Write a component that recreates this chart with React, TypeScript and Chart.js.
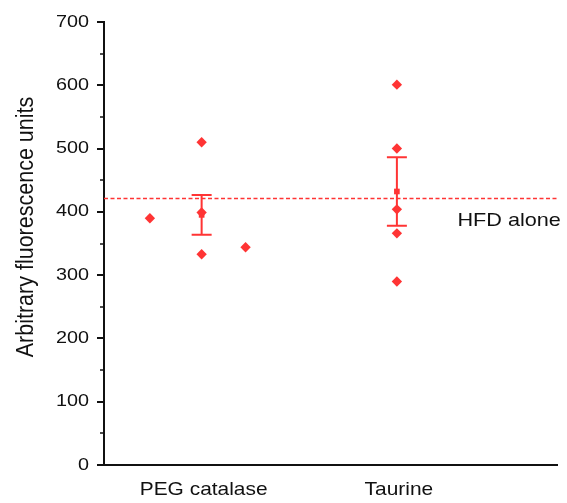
import React, { useEffect, useRef } from "react";
import { Chart, registerables } from "chart.js";

Chart.register(...registerables);

const categories = ["PEG catalase", "Taurine"];
const categoryPositions = [1, 2];
const pegValues = [390, 399, 510, 333, 344];
const pegPositions = [0.735, 1, 1, 1, 1.225];
const taurineValues = [601, 500, 404, 366, 290];
const taurinePositions = [2, 2, 2, 2, 2];
const hfdAloneValue = 421;
const hfdLabel = "HFD alone";
const yTickValues = [0, 100, 200, 300, 400, 500, 600, 700];
const yMinorTickValues = [50, 150, 250, 350, 450, 550, 650];
const yTitle = "Arbitrary fluorescence units";

const RED = "#ff3434";
const FONT = "'Liberation Sans', Arial, sans-serif";

function mean(a: number[]) {
  return a.reduce((s, v) => s + v, 0) / a.length;
}
function sem(a: number[]) {
  const m = mean(a);
  const v = a.reduce((s, x) => s + (x - m) * (x - m), 0) / (a.length - 1);
  return Math.sqrt(v) / Math.sqrt(a.length);
}

const groups = [pegValues, taurineValues];
const groupMeans = groups.map(mean);
const groupSems = groups.map(sem);

function stretchedText(
  ctx: CanvasRenderingContext2D,
  text: string,
  x: number,
  y: number,
  sx: number,
  align: CanvasTextAlign,
  baseline: CanvasTextBaseline,
  font: string,
  rotate = 0
) {
  ctx.save();
  ctx.translate(x, y);
  if (rotate) ctx.rotate(rotate);
  if (rotate) ctx.scale(1, sx);
  else ctx.scale(sx, 1);
  ctx.font = font;
  ctx.fillStyle = "#111";
  ctx.textAlign = align;
  ctx.textBaseline = baseline;
  ctx.fillText(text, 0, 0);
  ctx.restore();
}

const decorPlugin = {
  id: "decor",
  beforeDatasetsDraw(chart: any) {
    const ctx = chart.ctx as CanvasRenderingContext2D;
    const xs = chart.scales.x;
    const ys = chart.scales.y;
    ctx.save();
    ctx.strokeStyle = RED;
    ctx.lineWidth = 2;
    groups.forEach((_, i) => {
      const x = xs.getPixelForValue(categoryPositions[i]);
      const top = ys.getPixelForValue(groupMeans[i] + groupSems[i]);
      const bot = ys.getPixelForValue(groupMeans[i] - groupSems[i]);
      ctx.beginPath();
      ctx.moveTo(x, top);
      ctx.lineTo(x, bot);
      ctx.moveTo(x - 10, top);
      ctx.lineTo(x + 10, top);
      ctx.moveTo(x - 10, bot);
      ctx.lineTo(x + 10, bot);
      ctx.stroke();
    });
    ctx.restore();
  },
  afterDraw(chart: any) {
    const ctx = chart.ctx as CanvasRenderingContext2D;
    const xs = chart.scales.x;
    const ys = chart.scales.y;
    const left = chart.chartArea.left;
    ctx.save();
    ctx.strokeStyle = "#111";
    ctx.lineWidth = 2;
    yTickValues.forEach((v) => {
      const y = Math.round(ys.getPixelForValue(v));
      ctx.beginPath();
      ctx.moveTo(left - 7, y);
      ctx.lineTo(left, y);
      ctx.stroke();
    });
    ctx.lineWidth = 1.5;
    yMinorTickValues.forEach((v) => {
      const y = Math.round(ys.getPixelForValue(v));
      ctx.beginPath();
      ctx.moveTo(left - 4, y);
      ctx.lineTo(left, y);
      ctx.stroke();
    });
    ctx.restore();

    yTickValues.forEach((v) => {
      stretchedText(ctx, String(v), left - 15, ys.getPixelForValue(v), 1.2, "right", "middle", `16.5px ${FONT}`);
    });
    categories.forEach((c, i) => {
      stretchedText(ctx, c, xs.getPixelForValue(categoryPositions[i]) + 2, 495, 1.13, "center", "alphabetic", `18.5px ${FONT}`);
    });
    stretchedText(ctx, hfdLabel, xs.getPixelForValue(2.31), ys.getPixelForValue(hfdAloneValue) + 27, 1.17, "left", "alphabetic", `18.5px ${FONT}`);
    stretchedText(ctx, yTitle, 33, 227, 1.13, "center", "alphabetic", `21.5px ${FONT}`, -Math.PI / 2);
  },
};

export default function App() {
  const ref = useRef<HTMLCanvasElement>(null);
  useEffect(() => {
    if (!ref.current) return;
    const chart = new Chart(ref.current, {
      type: "scatter",
      data: {
        datasets: [
          {
            type: "line",
            label: hfdLabel,
            data: [
              { x: 0.5, y: hfdAloneValue },
              { x: 2.82, y: hfdAloneValue },
            ],
            borderColor: RED,
            borderWidth: 1.5,
            borderDash: [4, 2.5],
            pointRadius: 0,
            fill: false,
          } as any,
          {
            label: categories[0],
            data: pegValues.map((v, i) => ({ x: pegPositions[i], y: v })),
            pointStyle: "rectRot",
            pointRadius: 5.2,
            backgroundColor: RED,
            borderColor: RED,
            borderWidth: 0,
          },
          {
            label: categories[1],
            data: taurineValues.map((v, i) => ({ x: taurinePositions[i], y: v })),
            pointStyle: "rectRot",
            pointRadius: 5.2,
            backgroundColor: RED,
            borderColor: RED,
            borderWidth: 0,
          },
          {
            label: "Mean",
            data: groupMeans.map((m, i) => ({ x: categoryPositions[i], y: m })),
            pointStyle: "rect",
            pointRadius: 4,
            backgroundColor: RED,
            borderColor: RED,
            borderWidth: 0,
          },
        ],
      },
      options: {
        animation: false,
        responsive: false,
        maintainAspectRatio: false,
        layout: { padding: { top: 22, right: 10, left: 0, bottom: 0 } },
        plugins: { legend: { display: false }, tooltip: { enabled: false } },
        scales: {
          x: {
            type: "linear",
            min: 0.5,
            max: 2.82,
            grid: { display: false },
            border: { display: true, color: "#111", width: 2 },
            ticks: { display: false },
            afterFit(scale: any) {
              scale.height = 38;
            },
          },
          y: {
            type: "linear",
            min: 0,
            max: 700,
            grid: { display: false },
            border: { display: true, color: "#111", width: 2 },
            ticks: { display: false, stepSize: 100 },
            afterFit(scale: any) {
              scale.width = 104;
            },
          },
        },
      },
      plugins: [decorPlugin],
    });
    return () => chart.destroy();
  }, []);
  return (
    <div style={{ position: "fixed", left: 0, top: 0, width: 567, height: 503, background: "#fff" }}>
      <canvas ref={ref} width={567} height={503} style={{ width: 567, height: 503 }} />
    </div>
  );
}
